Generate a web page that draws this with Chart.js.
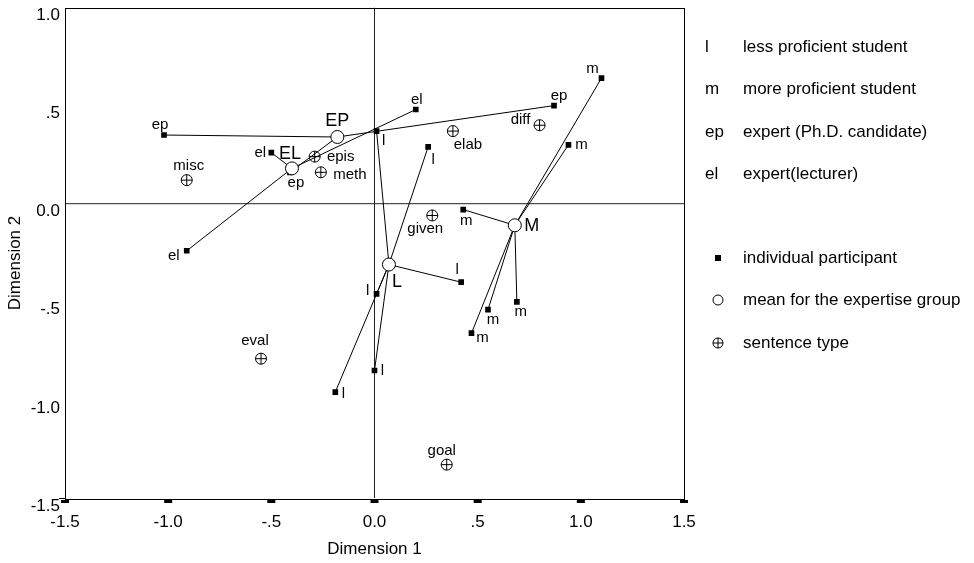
<!DOCTYPE html>
<html><head><meta charset="utf-8">
<script src="https://cdn.jsdelivr.net/npm/chart.js@4/dist/chart.umd.min.js"></script>
<style>html,body{margin:0;padding:0;background:#fff}#wrap{width:974px;height:563px;position:relative}</style>
</head><body><div id="wrap"><canvas id="c" width="974" height="563"></canvas></div>
<script>
// ---- data ----
const partLabels = ['l','l','l','l','l','l','m','m','m','m','m','m','ep','ep','ep','el','el','el'];
const partGroup  = ['L','L','L','L','L','L','M','M','M','M','M','M','EP','EP','EP','EL','EL','EL'];
const partX = [0.01, 0.26, 0.42, 0.01, 0.00, -0.19, 1.10, 0.94, 0.43, 0.55, 0.69, 0.47, -1.02, -0.41, 0.87, -0.50, 0.20, -0.91];
const partY = [0.37, 0.29, -0.40, -0.46, -0.85, -0.96, 0.64, 0.30, -0.03, -0.54, -0.50, -0.66, 0.35, 0.16, 0.50, 0.26, 0.48, -0.24];
const meanLabels = ['L','M','EP','EL'];
const meanX = [0.07, 0.68, -0.18, -0.40];
const meanY = [-0.31, -0.11, 0.34, 0.18];
const sentLabels = ['misc','epis','meth','elab','diff','given','eval','goal'];
const sentX = [-0.91, -0.29, -0.26, 0.38, 0.80, 0.28, -0.55, 0.35];
const sentY = [0.12, 0.24, 0.16, 0.37, 0.40, -0.06, -0.79, -1.33];
const xTickValues = [-1.5, -1, -0.5, 0, 0.5, 1, 1.5];
const xTickLabels = ['-1.5','-1.0','-.5','0.0','.5','1.0','1.5'];
const yTickValues = [-1.5, -1, -0.5, 0, 0.5, 1];
const yTickLabels = ['-1.5','-1.0','-.5','0.0','.5','1.0'];
const legendCodes = ['l','m','ep','el'];
const legendCodeText = ['less proficient student','more proficient student','expert (Ph.D. candidate)','expert(lecturer)'];
const legendSymbolText = ['individual participant','mean for the expertise group','sentence type'];

// ---- styling (label offsets in px, layout) ----
const FONT = "'Liberation Sans', Arial, Helvetica, sans-serif";
const partLabelOffsets = [[7,10],[5,13],[-4,-12],[-9,-3],[8,0],[8,2],[-9,-9],[13,0],[3,11],[5,10],[4,10],[11,5],[-4,-10],[6,11],[5,-10],[-11,0],[1,-10],[-13,5]];
const meanLabelOffsets = [[8,18],[17,1],[0,-16],[-2,-14]];
const sentLabelOffsets = [[2,-14],[26,0],[29,3],[15,14],[-19,-5],[-7,13],[-6,-18],[-5,-14]];
const legendRowsCodes = [47, 89, 132, 174];
const legendRowsSymbols = [258, 300, 343];

const datasets = [];
// reference lines
datasets.push({type:'scatter', data:[{x:0,y:-1.5},{x:0,y:1}], showLine:true, borderColor:'#222', borderWidth:1, pointRadius:0, order:20});
datasets.push({type:'scatter', data:[{x:-1.5,y:0},{x:1.5,y:0}], showLine:true, borderColor:'#222', borderWidth:1, pointRadius:0, order:20});
// links from group means to participants
partGroup.forEach((g, i) => {
  const gi = meanLabels.indexOf(g);
  datasets.push({type:'scatter', data:[{x:meanX[gi], y:meanY[gi]}, {x:partX[i], y:partY[i]}], showLine:true, borderColor:'#000', borderWidth:1, pointRadius:0, order:10});
});
// participants
datasets.push({type:'scatter', data: partX.map((x,i)=>({x, y:partY[i]})), pointStyle:'rect', pointRadius:4, backgroundColor:'#000', borderColor:'#000', borderWidth:0, order:5});
// sentence types: circle + cross
const sentData = sentX.map((x,i)=>({x, y:sentY[i]}));
datasets.push({type:'scatter', data: sentData, pointStyle:'circle', pointRadius:5.5, backgroundColor:'rgba(255,255,255,0)', borderColor:'#000', borderWidth:1, order:3});
datasets.push({type:'scatter', data: sentData, pointStyle:'cross', pointRadius:5.5, borderColor:'#000', borderWidth:1, order:2});
// means
datasets.push({type:'scatter', data: meanX.map((x,i)=>({x, y:meanY[i]})), pointStyle:'circle', pointRadius:6.5, backgroundColor:'#fff', borderColor:'#000', borderWidth:1, order:1});

const NP = partLabels.length;
const partIdx = 2 + NP;
const sentIdx = partIdx + 1;
const meanIdx = partIdx + 3;

const decor = {
  id:'decor',
  afterDatasetsDraw(chart) {
    const {ctx, chartArea:a, scales:{x, y}} = chart;
    ctx.save();
    // frame
    ctx.strokeStyle = '#000'; ctx.lineWidth = 1;
    ctx.strokeRect(Math.round(a.left)+0.5, Math.round(a.top)+0.5, Math.round(a.right-a.left), Math.round(a.bottom-a.top));
    // x tick dashes below frame
    ctx.fillStyle = '#000';
    xTickValues.forEach(v => { const px = x.getPixelForValue(v); ctx.fillRect(px-4, a.bottom+2, 8, 3); });
    ctx.fillRect(a.left-6, y.getPixelForValue(-1.5), 6, 1);
    // point labels
    ctx.fillStyle = '#000'; ctx.textAlign = 'center'; ctx.textBaseline = 'middle';
    ctx.font = '15px ' + FONT;
    chart.getDatasetMeta(partIdx).data.forEach((el, i) => {
      const o = partLabelOffsets[i];
      ctx.fillText(partLabels[i], el.x + o[0], el.y + o[1]);
    });
    chart.getDatasetMeta(sentIdx).data.forEach((el, i) => {
      const o = sentLabelOffsets[i];
      ctx.fillText(sentLabels[i], el.x + o[0], el.y + o[1]);
    });
    ctx.font = '18px ' + FONT;
    chart.getDatasetMeta(meanIdx).data.forEach((el, i) => {
      const o = meanLabelOffsets[i];
      ctx.fillText(meanLabels[i], el.x + o[0], el.y + o[1]);
    });
    // y title
    ctx.save();
    ctx.font = '17px ' + FONT;
    ctx.translate(15, 263); ctx.rotate(-Math.PI/2);
    ctx.fillText('Dimension 2', 0, 0);
    ctx.restore();
    // legend
    ctx.textAlign = 'left';
    ctx.font = '17px ' + FONT;
    legendCodes.forEach((c, i) => {
      ctx.fillText(c, 705, legendRowsCodes[i]);
      ctx.fillText(legendCodeText[i], 743, legendRowsCodes[i]);
    });
    legendSymbolText.forEach((t, i) => ctx.fillText(t, 743, legendRowsSymbols[i]));
    const sx = 718;
    // square
    ctx.fillRect(sx-3, legendRowsSymbols[0]-3, 6, 6);
    // circle
    ctx.beginPath(); ctx.arc(sx, legendRowsSymbols[1], 5, 0, Math.PI*2); ctx.stroke();
    // circle-plus
    const cy = legendRowsSymbols[2];
    ctx.beginPath(); ctx.arc(sx, cy, 5, 0, Math.PI*2); ctx.moveTo(sx-5, cy); ctx.lineTo(sx+5, cy); ctx.moveTo(sx, cy-5); ctx.lineTo(sx, cy+5); ctx.stroke();
    ctx.restore();
  }
};

const findLabel = (vals, labels, v) => { const i = vals.findIndex(t => Math.abs(t - v) < 1e-6); return i >= 0 ? labels[i] : ''; };

new Chart(document.getElementById('c'), {
  type:'scatter',
  data:{datasets},
  options:{
    responsive:false, animation:false, events:[],
    layout:{padding:{left:0, top:6, right:290, bottom:0}},
    plugins:{legend:{display:false}, tooltip:{enabled:false}},
    scales:{
      x:{type:'linear', min:-1.5, max:1.5,
        afterBuildTicks: s => { s.ticks = xTickValues.map(v => ({value:v})); },
        ticks:{callback: v => findLabel(xTickValues, xTickLabels, v), font:{size:17, family:FONT}, color:'#000', padding:14, maxRotation:0, autoSkip:false},
        grid:{display:false, drawTicks:false}, border:{display:false},
        title:{display:true, text:'Dimension 1', font:{size:17, family:FONT}, color:'#000', padding:{top:4, bottom:3}},
        afterFit: s => { s.height = 65; s.paddingLeft = 0; s.paddingRight = 0; }
      },
      y:{type:'linear', min:-1.5, max:1.0,
        afterBuildTicks: s => { s.ticks = yTickValues.map(v => ({value:v})); },
        ticks:{callback: v => findLabel(yTickValues, yTickLabels, v), font:{size:17, family:FONT}, color:'#000', padding:5, labelOffset:8, autoSkip:false},
        grid:{display:false, drawTicks:false}, border:{display:false},
        afterFit: s => { s.width = 65; s.paddingTop = 0; s.paddingBottom = 0; }
      }
    }
  },
  plugins:[decor]
});
</script></body></html>
